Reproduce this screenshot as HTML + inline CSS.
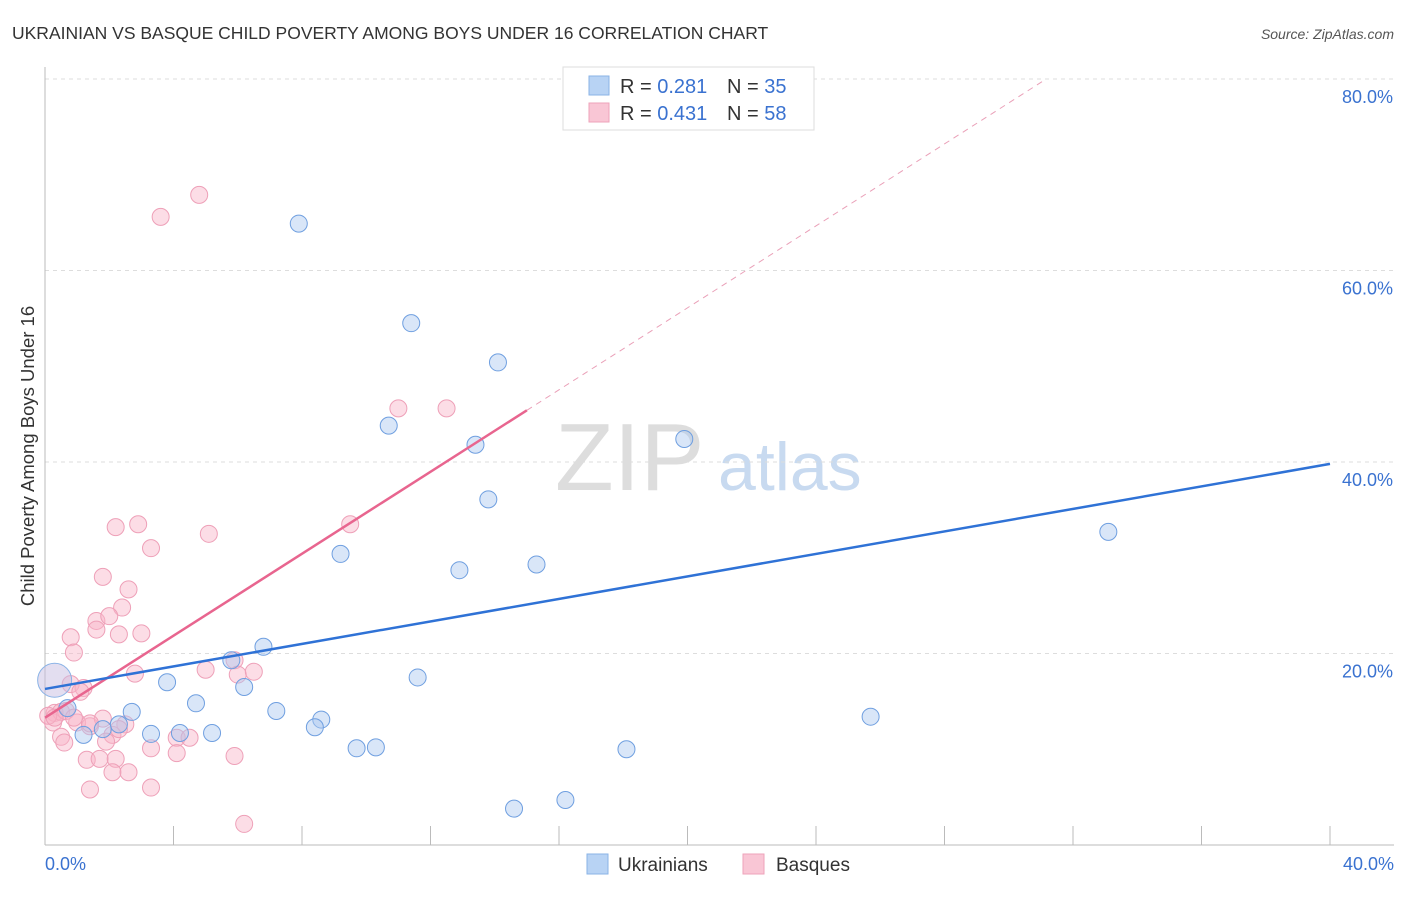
<!DOCTYPE html>
<html><head><meta charset="utf-8"><style>
body{margin:0;background:#fff;font-family:"Liberation Sans",sans-serif;}
svg text{font-family:"Liberation Sans",sans-serif;}
</style></head><body>
<svg id="chart" width="1406" height="892" xmlns="http://www.w3.org/2000/svg">
<text x="12" y="39" font-size="17.5" fill="#333">UKRAINIAN VS BASQUE CHILD POVERTY AMONG BOYS UNDER 16 CORRELATION CHART</text>
<text x="1394" y="39" font-size="14" fill="#555" font-style="italic" text-anchor="end">Source: ZipAtlas.com</text>
<text x="0" y="0" font-size="18.5" fill="#333" text-anchor="middle" transform="translate(34,456) rotate(-90)">Child Poverty Among Boys Under 16</text>
<text x="555" y="490" font-size="96" fill="#ddd" font-family="Liberation Serif">ZIP</text>
<text x="718" y="490" font-size="68" fill="#c8daf0">atlas</text>
<g id="grid"></g><g id="pts"></g><g id="lines"></g>
<g>
<rect x="563" y="67" width="251" height="63" fill="#fff" stroke="#ddd"/>
<rect x="589" y="76" width="20" height="19" fill="#b8d3f4" stroke="#8ab3e6"/>
<rect x="589" y="103" width="20" height="19" fill="#f9c6d5" stroke="#eea3ba"/>
<text x="620" y="93" font-size="20" fill="#333">R = <tspan fill="#3a72d0">0.281</tspan></text>
<text x="727" y="93" font-size="20" fill="#333">N = <tspan fill="#3a72d0">35</tspan></text>
<text x="620" y="120" font-size="20" fill="#333">R = <tspan fill="#3a72d0">0.431</tspan></text>
<text x="727" y="120" font-size="20" fill="#333">N = <tspan fill="#3a72d0">58</tspan></text>
</g>
<g>
<rect x="587" y="854" width="21" height="20" fill="#b8d3f4" stroke="#8ab3e6"/>
<text x="618" y="871" font-size="19" fill="#333">Ukrainians</text>
<rect x="743" y="854" width="21" height="20" fill="#f9c6d5" stroke="#eea3ba"/>
<text x="776" y="871" font-size="19" fill="#333">Basques</text>
</g>
</svg>
<script>
const blueX=[7.9,11.4,14.1,10.7,13.4,19.9,13.8,33.1,9.2,12.9,15.3,6.8,5.8,11.6,3.8,6.2,4.7,7.2,8.6,8.4,2.7,0.7,2.3,1.8,1.2,3.3,4.2,5.2,9.7,10.3,18.1,25.7,14.6,16.2];
const blueY=[64.9,54.5,50.4,43.8,41.8,42.4,36.1,32.7,30.4,28.7,29.3,20.7,19.3,17.5,17.0,16.5,14.8,14.0,13.1,12.3,13.9,14.3,12.6,12.1,11.5,11.6,11.7,11.7,10.1,10.2,10.0,13.4,3.8,4.7];
const pinkX=[4.8,3.6,11.0,12.5,9.5,2.9,2.2,5.1,3.3,1.8,2.6,2.4,1.6,2.0,1.6,2.3,3.0,0.8,0.9,5.9,5.0,6.0,6.5,2.8,0.8,1.2,1.1,0.3,0.25,0.5,0.65,1.0,1.4,1.8,1.4,2.5,2.1,0.5,0.6,1.9,4.1,4.5,3.3,4.1,5.9,1.3,1.7,2.2,2.1,2.6,1.4,3.3,6.2,0.1,0.3,0.9,2.3];
const pinkY=[67.9,65.6,45.6,45.6,33.5,33.5,33.2,32.5,31.0,28.0,26.7,24.8,23.4,23.9,22.5,22.0,22.1,21.7,20.1,19.3,18.3,17.8,18.1,17.9,16.8,16.4,16.0,13.8,12.8,13.9,14.0,12.8,12.4,13.2,12.7,12.6,11.5,11.3,10.7,10.8,11.2,11.2,10.1,9.6,9.3,8.9,9.0,9.0,7.6,7.6,5.8,6.0,2.2,13.5,13.3,13.3,12.1];
const bigBlue=[0.3,17.2];
const yTicks=[20,40,60,80];
const yTickLabels=["20.0%","40.0%","60.0%","80.0%"];
const xTickLabels=["0.0%","40.0%"];
const blueTrend=[16.3,39.8];
const pinkTrend=[13.3,15.0,45.4];
const NS="http://www.w3.org/2000/svg";
const sx=v=>45+v*32.125, sy=v=>845-v*9.575;
function mk(tag,attrs,parent){const e=document.createElementNS(NS,tag);for(const k in attrs)e.setAttribute(k,attrs[k]);parent.appendChild(e);return e;}
const grid=document.getElementById('grid');
yTicks.forEach((t,i)=>{
 const l=mk('line',{x1:45,x2:1394,y1:sy(t),y2:sy(t),stroke:'#ddd','stroke-dasharray':'4,4'},grid);
 
 
 const tx=mk('text',{x:1393,y:sy(t)+24,'font-size':18,fill:'#3a72d0','text-anchor':'end'},grid);
 tx.textContent=yTickLabels[i];
 
 
});
const ax=mk('line',{x1:45,x2:45,y1:67,y2:845,stroke:'#bbb'},grid);


const bx=mk('line',{x1:45,x2:1394,y1:845,y2:845,stroke:'#bbb'},grid);


for(let i=1;i<=10;i++){const t=mk('line',{x1:sx(i*4),x2:sx(i*4),y1:826,y2:845,stroke:'#bbb'},grid);
 
 }
[[0,'start',45],[40,'end',1394]].forEach((a,i)=>{const t=mk('text',{x:a[2],y:870,'font-size':18,fill:'#3a72d0','text-anchor':a[1]},grid);t.textContent=xTickLabels[i];
 
 });
const pts=document.getElementById('pts');
pinkX.forEach((x,i)=>{const c=mk('circle',{cx:sx(x),cy:sy(pinkY[i]),r:8.5,fill:'rgba(248,180,200,0.45)',stroke:'#eea0b8','stroke-width':1},pts);
 
 });
const bb=mk('circle',{cx:sx(bigBlue[0]),cy:sy(bigBlue[1]),r:17,fill:'rgba(200,190,225,0.5)',stroke:'#8ab3e6'},pts);


blueX.forEach((x,i)=>{const c=mk('circle',{cx:sx(x),cy:sy(blueY[i]),r:8.5,fill:'rgba(170,200,240,0.45)',stroke:'#6f9fe0','stroke-width':1},pts);
 
 });
const lines=document.getElementById('lines');
const slope=(pinkTrend[2]-pinkTrend[0])/pinkTrend[1];
const pd=mk('line',{x1:sx(pinkTrend[1]),y1:sy(pinkTrend[2]),x2:sx(31.1),y2:sy(pinkTrend[0]+slope*31.1),stroke:'#eaa0b8','stroke-dasharray':'6,5','stroke-width':1},lines);


const pl=mk('line',{x1:sx(0),y1:sy(pinkTrend[0]),x2:sx(pinkTrend[1]),y2:sy(pinkTrend[2]),stroke:'#e8658f','stroke-width':2.5},lines);


const bl=mk('line',{x1:sx(0),y1:sy(blueTrend[0]),x2:sx(40),y2:sy(blueTrend[1]),stroke:'#2f72d6','stroke-width':2.5},lines);


</script>
</body></html>
